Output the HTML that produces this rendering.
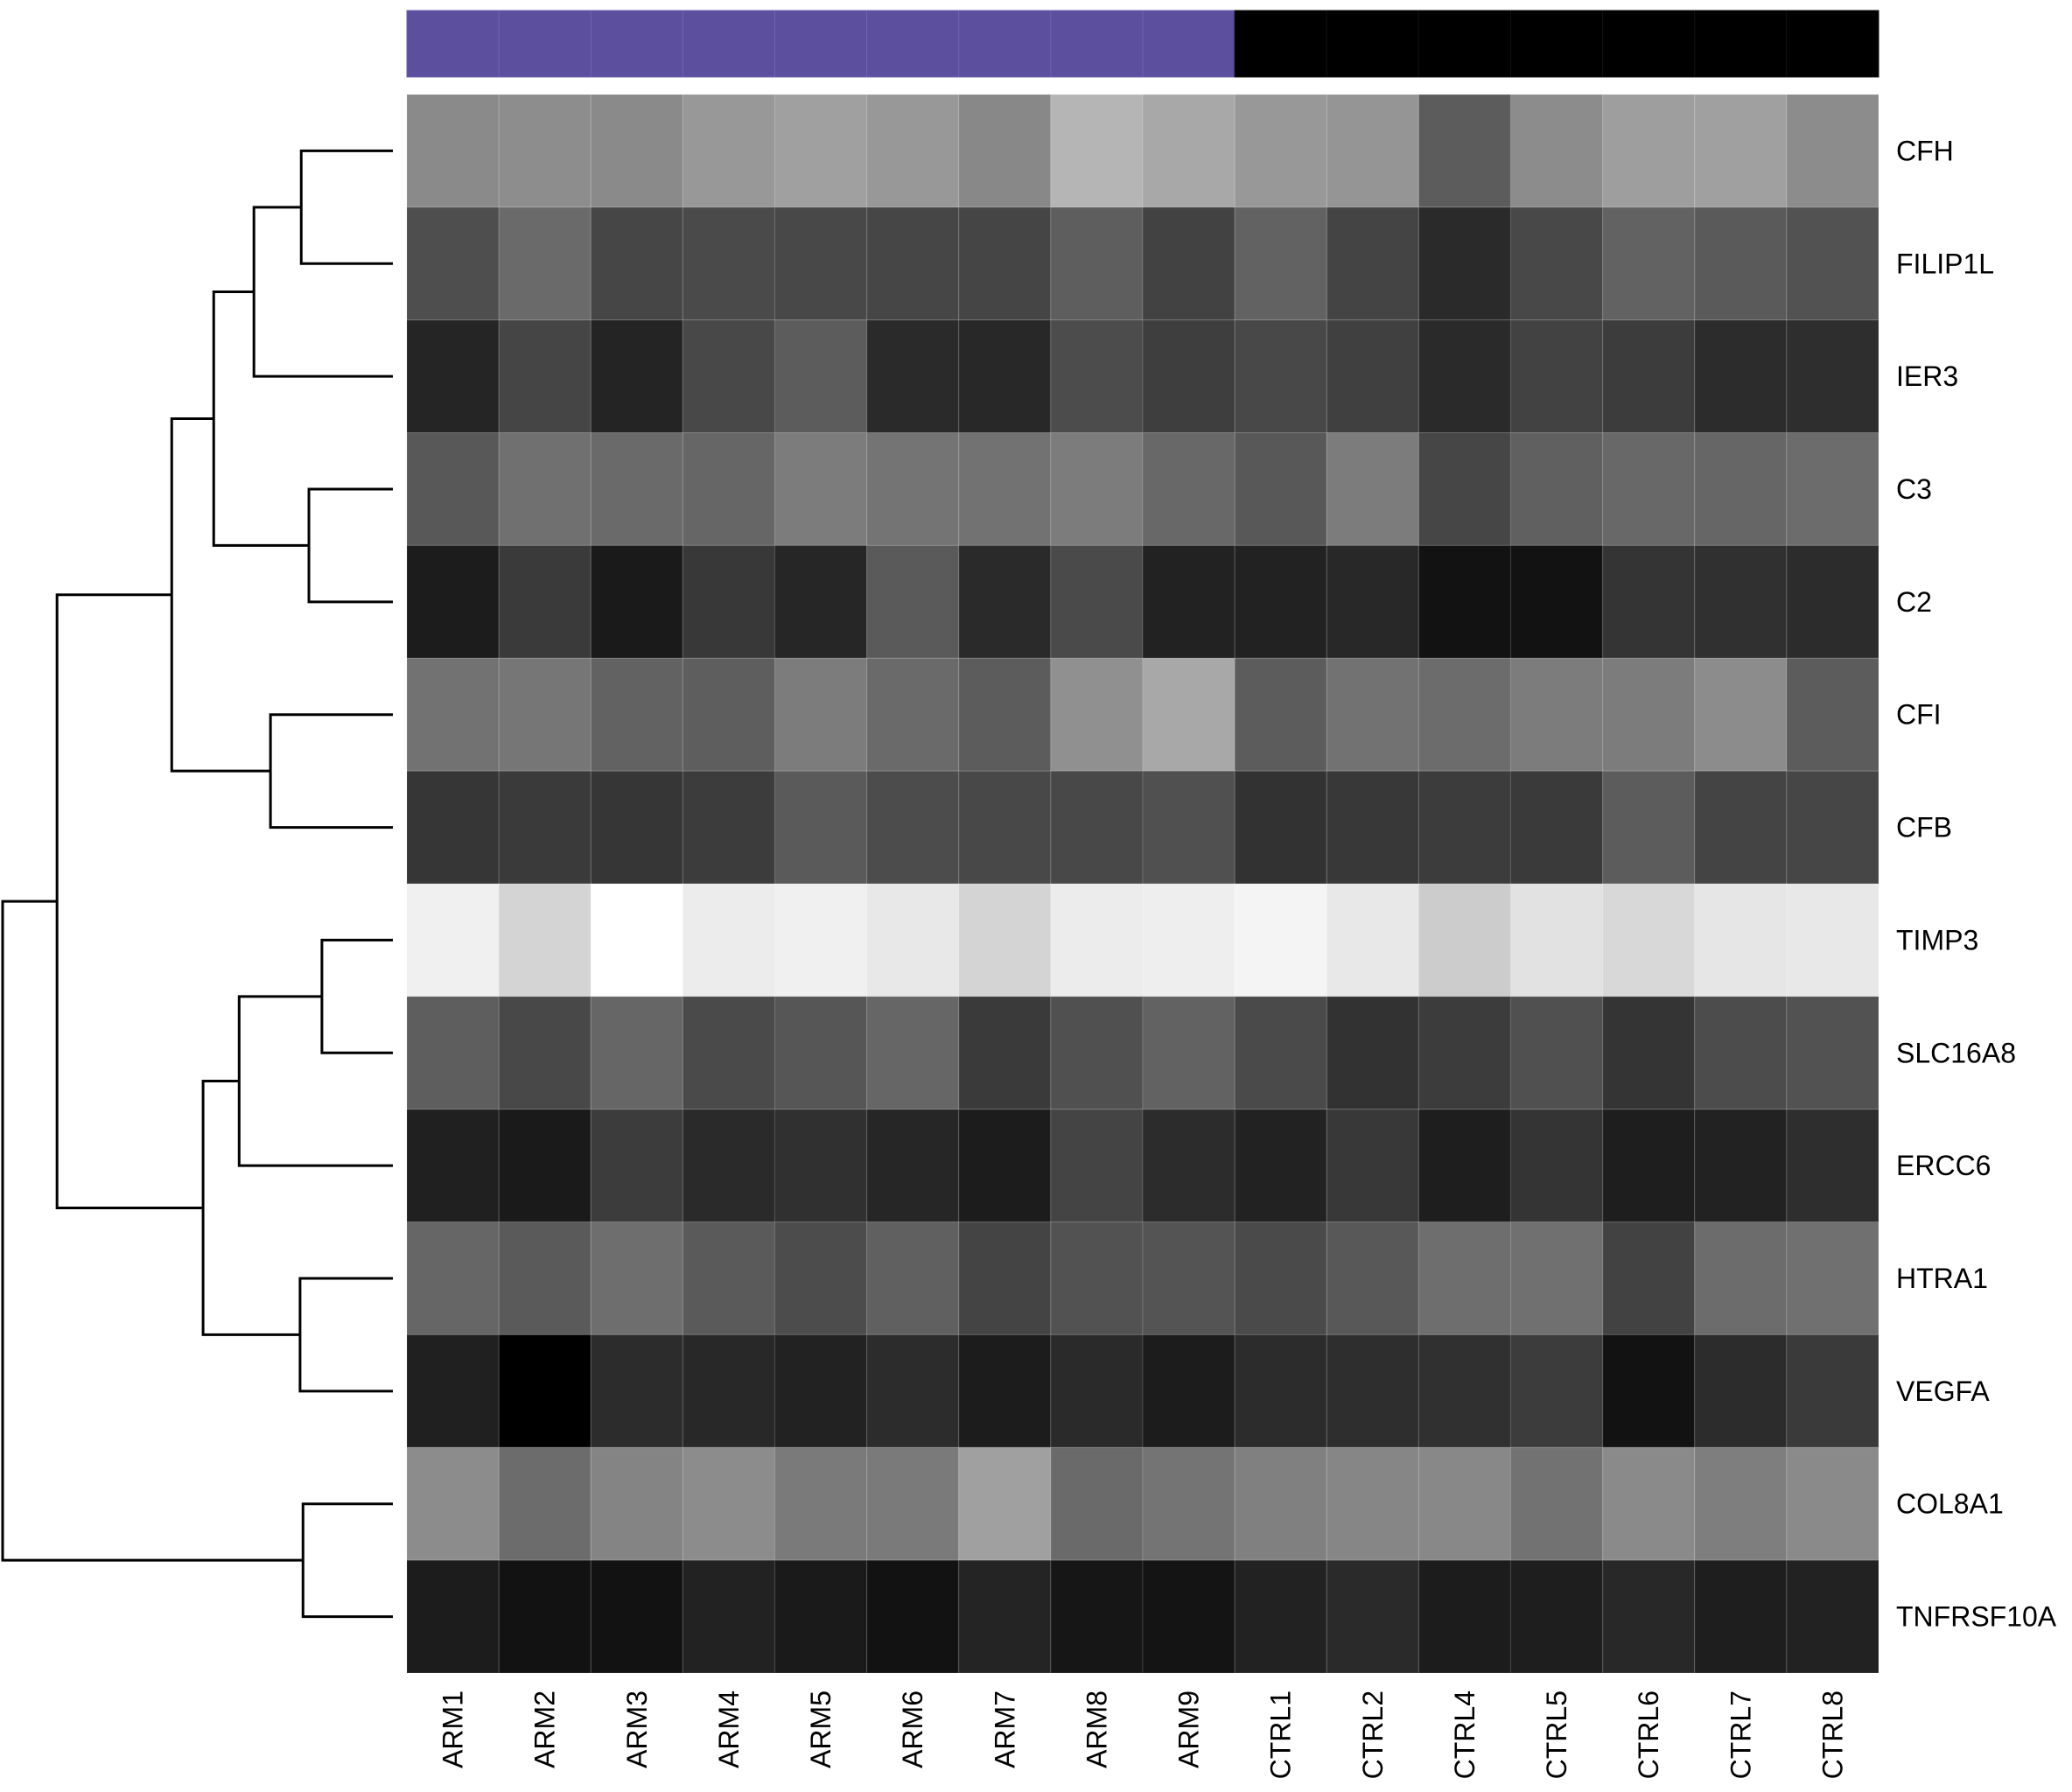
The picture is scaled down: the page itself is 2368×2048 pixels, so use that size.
<!DOCTYPE html>
<html><head><meta charset="utf-8"><style>
html,body{margin:0;padding:0;background:#fff;}
svg{display:block;font-family:"Liberation Sans",Arial,sans-serif;}
</style></head><body>
<svg id="chart" width="2368" height="2048" viewBox="0 0 2368 2048" xmlns="http://www.w3.org/2000/svg">
<rect width="2368" height="2048" fill="#fff"/>
<g id="groupbar"></g>
<g id="cells"></g>
<g id="rowlabels"></g>
<g id="collabels"></g>
<g id="dendro"></g>
</svg>
<script>
const columns = ["ARM1","ARM2","ARM3","ARM4","ARM5","ARM6","ARM7","ARM8","ARM9","CTRL1","CTRL2","CTRL4","CTRL5","CTRL6","CTRL7","CTRL8"];
const groups = ["ARM","ARM","ARM","ARM","ARM","ARM","ARM","ARM","ARM","CTRL","CTRL","CTRL","CTRL","CTRL","CTRL","CTRL"];
const rows = ["CFH","FILIP1L","IER3","C3","C2","CFI","CFB","TIMP3","SLC16A8","ERCC6","HTRA1","VEGFA","COL8A1","TNFRSF10A"];
// values = gray intensity 0..255
const vCFH      = [0x8a,0x8d,0x8a,0x98,0xa0,0x98,0x88,0xb5,0xa8,0x98,0x95,0x5c,0x8c,0x9e,0xa0,0x8c];
const vFILIP1L  = [0x4e,0x6a,0x46,0x4a,0x48,0x46,0x45,0x5e,0x42,0x62,0x44,0x2a,0x48,0x62,0x5a,0x52];
const vIER3     = [0x25,0x45,0x24,0x48,0x5c,0x2a,0x28,0x4c,0x3e,0x48,0x40,0x2a,0x42,0x3c,0x2c,0x2e];
const vC3       = [0x58,0x70,0x6a,0x66,0x7c,0x74,0x72,0x7c,0x68,0x58,0x7c,0x46,0x60,0x68,0x66,0x6c];
const vC2       = [0x1c,0x3a,0x1a,0x38,0x26,0x5a,0x2a,0x4a,0x22,0x22,0x28,0x12,0x12,0x34,0x30,0x2c];
const vCFI      = [0x72,0x76,0x62,0x5e,0x7c,0x6a,0x5c,0x90,0xa8,0x5c,0x72,0x6c,0x7c,0x7c,0x8c,0x5c];
const vCFB      = [0x36,0x3a,0x36,0x3c,0x5a,0x4c,0x48,0x48,0x50,0x32,0x38,0x3c,0x3a,0x5c,0x44,0x46];
const vTIMP3    = [0xf0,0xd4,0xff,0xec,0xf0,0xe8,0xd4,0xec,0xee,0xf4,0xe8,0xcc,0xe2,0xd8,0xe6,0xe8];
const vSLC16A8  = [0x5e,0x48,0x66,0x4a,0x56,0x66,0x3a,0x50,0x62,0x4a,0x32,0x3c,0x50,0x34,0x4c,0x52];
const vERCC6    = [0x20,0x1a,0x3c,0x2a,0x30,0x26,0x1c,0x44,0x2c,0x22,0x38,0x1e,0x34,0x1e,0x22,0x2e];
const vHTRA1    = [0x66,0x5a,0x6e,0x5a,0x4c,0x60,0x44,0x52,0x54,0x4a,0x58,0x6e,0x70,0x42,0x6c,0x70];
const vVEGFA    = [0x20,0x00,0x2c,0x28,0x22,0x2c,0x1c,0x2a,0x1c,0x2c,0x2e,0x30,0x3c,0x12,0x2c,0x3a];
const vCOL8A1   = [0x8c,0x6c,0x84,0x8c,0x7a,0x7a,0xa0,0x6a,0x74,0x80,0x86,0x88,0x72,0x8a,0x7e,0x8a];
const vTNFRSF10A= [0x1c,0x12,0x12,0x22,0x1a,0x12,0x24,0x16,0x14,0x22,0x2a,0x1c,0x1e,0x28,0x1e,0x22];
const values = [vCFH,vFILIP1L,vIER3,vC3,vC2,vCFI,vCFB,vTIMP3,vSLC16A8,vERCC6,vHTRA1,vVEGFA,vCOL8A1,vTNFRSF10A];
// dendrogram merges: [left, right, height]; leaves are row indices, nodes are "n<k>"
const merges = [
  [0,1,0.505],["n0",2,0.425],[3,4,0.518],["n1","n2",0.357],[5,6,0.453],["n3","n4",0.286],
  [7,8,0.540],["n6",9,0.400],[10,11,0.503],["n7","n8",0.339],["n5","n9",0.092],
  [12,13,0.508],["n10","n11",0.0]
];
const groupColors = {ARM:"#5b4f9e", CTRL:"#000000"};

const NS="http://www.w3.org/2000/svg";
const X0=465, X1=2147, Y0=108, Y1=1912;
const cw=(X1-X0)/columns.length, rh=(Y1-Y0)/rows.length;
const xCol=i=>X0+i*cw, yRow=j=>Y0+j*rh;
const DX0=3, DX1=449;
const hx=h=>DX0+(DX1-DX0)*h/0.66;
function mk(tag,attrs,parent){const e=document.createElementNS(NS,tag);for(const k in attrs)e.setAttribute(k,attrs[k]);parent.appendChild(e);return e;}

const gb=document.getElementById('groupbar');
groups.forEach((g,i)=>{
  const r=mk('rect',{x:xCol(i),y:12,width:cw,height:76,fill:groupColors[g],stroke:g==="ARM"?"#6e63b0":"#111","stroke-width":1},gb);
  
  
});
const gc=document.getElementById('cells');
values.forEach((row,j)=>row.forEach((v,i)=>{
  const c=`rgb(${v},${v},${v})`;
  const r=mk('rect',{x:xCol(i),y:yRow(j),width:cw,height:rh,fill:c,stroke:"rgba(255,255,255,0.12)","stroke-width":1.2},gc);
  
  
}));
const gr=document.getElementById('rowlabels');
rows.forEach((n,j)=>{
  const t=mk('text',{x:2167,y:yRow(j)+rh/2+11,"font-size":32,fill:"#000"},gr);
  t.textContent=n;
  
  
});
const gcl=document.getElementById('collabels');
columns.forEach((n,i)=>{
  const cx=xCol(i)+cw/2+11;
  const t=mk('text',{x:cx,y:1932,"font-size":32,fill:"#000","text-anchor":"end",transform:`rotate(-90 ${cx} 1932)`},gcl);
  t.textContent=n;
  
  
});
const gd=document.getElementById('dendro');
const pos={};
function node(k){ if(typeof k==="number") return {x:DX1,y:yRow(k)+rh/2}; return pos[k]; }
merges.forEach((m,k)=>{
  const a=node(m[0]), b=node(m[1]), x=hx(m[2]);
  const p=mk('path',{d:`M${a.x},${a.y}H${x}V${b.y}H${b.x}`,fill:"none",stroke:"#000","stroke-width":3},gd);
  
  
  pos['n'+k]={x:x,y:(a.y+b.y)/2};
});
</script>
</body></html>
